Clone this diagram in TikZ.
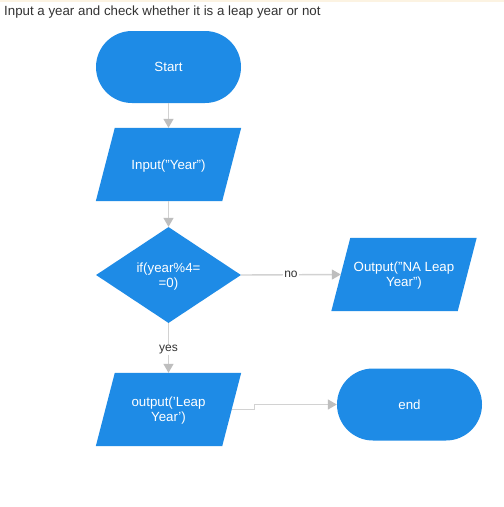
\documentclass[tikz,border=0pt]{standalone}
\usepackage{fontspec}
\setmainfont{Liberation Sans}
\usetikzlibrary{shapes.geometric,arrows.meta,backgrounds}
\definecolor{fcblue}{RGB}{30,139,230}
\definecolor{lngrey}{RGB}{210,210,210}
\definecolor{tipgrey}{RGB}{190,190,190}
\definecolor{txtgrey}{RGB}{51,51,51}
\definecolor{topline}{RGB}{252,243,226}
\begin{document}
\begin{tikzpicture}[x=1pt,y=-1pt,
  every node/.style={font=\fontsize{13.3}{15}\selectfont},
  term/.style={rectangle,rounded corners=36pt,fill=fcblue,text=white,minimum width=145pt,minimum height=72pt,inner sep=0pt,text depth=0pt},
  iobox/.style={rectangle,text=white,minimum width=126pt,minimum height=73pt,inner sep=0pt,align=center,text depth=0pt},
  decide/.style={diamond,fill=fcblue,text=white,minimum width=145pt,minimum height=96pt,aspect=1.5,inner sep=0pt,align=center,text depth=0pt},
  twoline/.style={text depth=-4pt},
  flow/.style={draw=lngrey,line width=1.4pt,-{Triangle[width=10pt,length=9pt,color=tipgrey]}},
  lbl/.style={fill=white,text=txtgrey,inner sep=1pt,font=\fontsize{12}{14}\selectfont}]
\useasboundingbox (0,0) rectangle (504,507);
\node[anchor=west,inner sep=0pt,text=txtgrey] (title) at (4,12) {Input a year and check whether it is a leap year or not};
\node[term] (start) at (168.5,67) {Start};
\node[iobox] (inp) at (168.5,164.5) {Input("Year")};
\node[decide,twoline] (dec) at (168.5,275) {if(year\%4=\\=0)};
\node[iobox,twoline] (na) at (404,274.5) {Output("NA Leap\\Year")};
\node[iobox,twoline] (out) at (168.5,409.5) {output('Leap\\Year')};
\node[term] (end) at (409.5,404.5) {end};
\begin{scope}[on background layer]
  \fill[white] (0,0) rectangle (504,507);
  \fill[topline] (0,0) rectangle (504,2);
  \foreach \n in {inp,na,out}{
    \fill[fcblue] ([xshift=9.5pt]\n.north west) -- ([xshift=9.5pt]\n.north east)
      -- ([xshift=-9.5pt]\n.south east) -- ([xshift=-9.5pt]\n.south west) -- cycle;
  }
\end{scope}
\draw[flow] (start) -- (inp);
\draw[flow] (inp) -- (dec);
\draw[flow] (dec.east) -- node[lbl]{no} (na.west);
\draw[flow] (dec.south) -- node[lbl,pos=0.54]{yes} (out.north);
\draw[flow] (out.east) -- ++(22.5,0) |- (end.west);
\end{tikzpicture}
\end{document}
